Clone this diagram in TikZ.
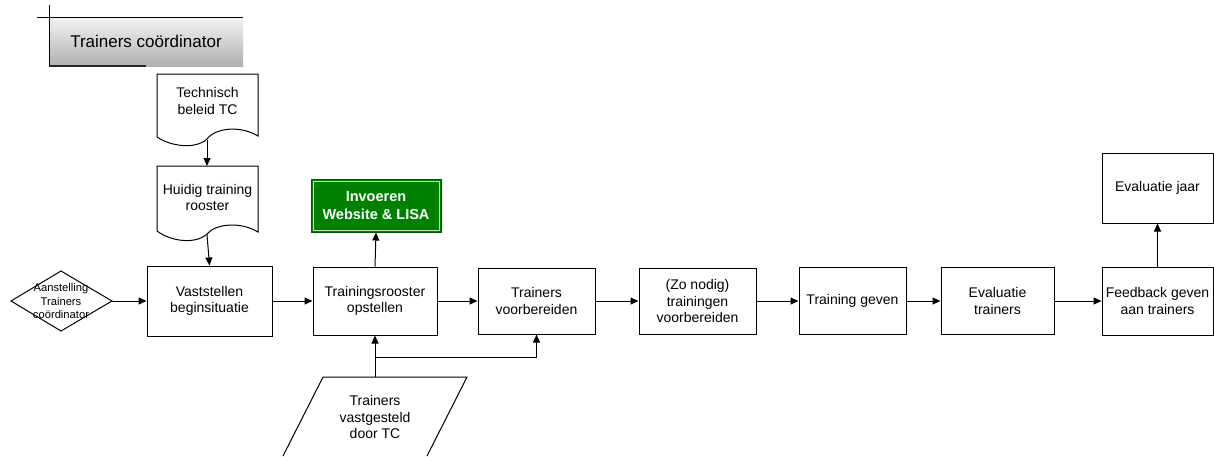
\documentclass[tikz,border=0pt]{standalone}
\usepackage{fontspec}
\setmainfont{Liberation Sans}
\usetikzlibrary{arrows.meta}
\definecolor{boxgreen}{RGB}{0,128,0}
\tikzset{
  line/.style={line width=1pt, draw=black},
  arr/.style={line, -{Triangle[length=8pt,width=7pt]}},
  stepbox/.style={line, rectangle, fill=white, inner sep=2pt, align=center,
    font=\fontsize{14}{16.7}\selectfont},
  docshape/.style={line, fill=white},
  txt/.style={align=center, inner sep=0pt, font=\fontsize{14}{16.7}\selectfont},
}
\begin{document}
\begin{tikzpicture}[x=1pt,y=-1pt]
\useasboundingbox (0,0) rectangle (1214,456);

% swimlane header
\shade[top color=gray!8, bottom color=gray!62] (49,17) rectangle (243,66);
\draw[line] (37,17) -- (243,17);
\draw[line] (49,5) -- (49,66);
\draw[line width=1.8pt, draw=black!85] (49,66) -- (146,66);
\node[txt, font=\fontsize{17}{20}\selectfont] (lane) at (146,41) {Trainers coördinator};

% document: Technisch beleid TC
\draw[docshape] (157,137) -- (157,74) -- (258,74) -- (258,136)
  .. controls (240,125) and (215,128) .. (207,139)
  .. controls (195,150) and (170,146) .. cycle;
\coordinate (techbot) at (207,139.5);
\node[txt] (tech) at (207.5,101) {Technisch\\beleid TC};

% document: Huidig training rooster
\draw[docshape] (157,231) -- (157,166) -- (258,166) -- (258,232)
  .. controls (240,221) and (215,224) .. (207,234)
  .. controls (195,245) and (170,241) .. cycle;
\coordinate (huidtop) at (207,166);
\coordinate (huidbot) at (207,234.5);
\node[txt] (huid) at (207.5,197.5) {Huidig training\\rooster};

% start event (text runs over the diamond outline)
\draw[line, fill=white] (11,301) -- (61,271) -- (112,301) -- (61,331) -- cycle;
\coordinate (starteast) at (112,301);
\node[align=center, inner sep=0pt, font=\fontsize{11.2}{13.3}\selectfont] (start) at (61,301)
  {Aanstelling\\Trainers\\coördinator};

% process steps
\node[stepbox, minimum width=125pt, minimum height=70pt] (vast) at (209.5,301) {Vaststellen\\beginsituatie};
\node[stepbox, minimum width=124pt, minimum height=68pt] (tros) at (375,301) {Trainingsrooster\\opstellen};
\node[stepbox, minimum width=117pt, minimum height=66pt] (tvoor) at (536.5,301) {Trainers\\voorbereiden};
\node[stepbox, minimum width=117pt, minimum height=66pt] (zo) at (697.5,301) {(Zo nodig)\\trainingen\\voorbereiden};
\node[stepbox, minimum width=107pt, minimum height=67pt] (tgev) at (852.5,301) {Training geven};
\node[stepbox, minimum width=113pt, minimum height=67pt] (evtr) at (997.5,301) {Evaluatie\\trainers};
\node[stepbox, minimum width=111pt, minimum height=68pt] (feed) at (1157.5,301) {Feedback geven\\aan trainers};
\node[stepbox, minimum width=111pt, minimum height=70pt] (evjaar) at (1157.5,188) {Evaluatie jaar};

% output to systems
\node[rectangle, draw=boxgreen!70!black, line width=1pt, fill=boxgreen,
  minimum width=130pt, minimum height=53pt, align=center, text=white,
  font=\fontsize{14.5}{17.3}\selectfont\bfseries] (invoer) at (376,205.5)
  {Invoeren\\Website \& LISA};
\draw[white!75!boxgreen, line width=0.7pt] ([shift={(2.5,2.5)}]invoer.north west) rectangle ([shift={(-2.5,-2.5)}]invoer.south east);

% input data
\draw[docshape] (283,456) -- (323,377) -- (467,377) -- (427,456);
\coordinate (paratop) at (375,377);
\coordinate (split) at (375,357);
\coordinate (splitr) at (536.5,357);
\node[txt] (para) at (375,417) {Trainers\\vastgesteld\\door TC};

% connectors
\draw[arr] (techbot) -- (huidtop);
\draw[arr] (huidbot) -- (vast.north);
\draw[arr] (starteast) -- (vast.west);
\draw[arr] (vast.east) -- (tros.west);
\draw[arr] (tros.north) -- (invoer.south);
\draw[arr] (tros.east) -- (tvoor.west);
\draw[arr] (tvoor.east) -- (zo.west);
\draw[arr] (zo.east) -- (tgev.west);
\draw[arr] (tgev.east) -- (evtr.west);
\draw[arr] (evtr.east) -- (feed.west);
\draw[arr] (feed.north) -- (evjaar.south);
\draw[arr] (paratop) -- (tros.south);
\draw[arr] (split) -- (splitr) -- (tvoor.south);
\end{tikzpicture}
\end{document}
